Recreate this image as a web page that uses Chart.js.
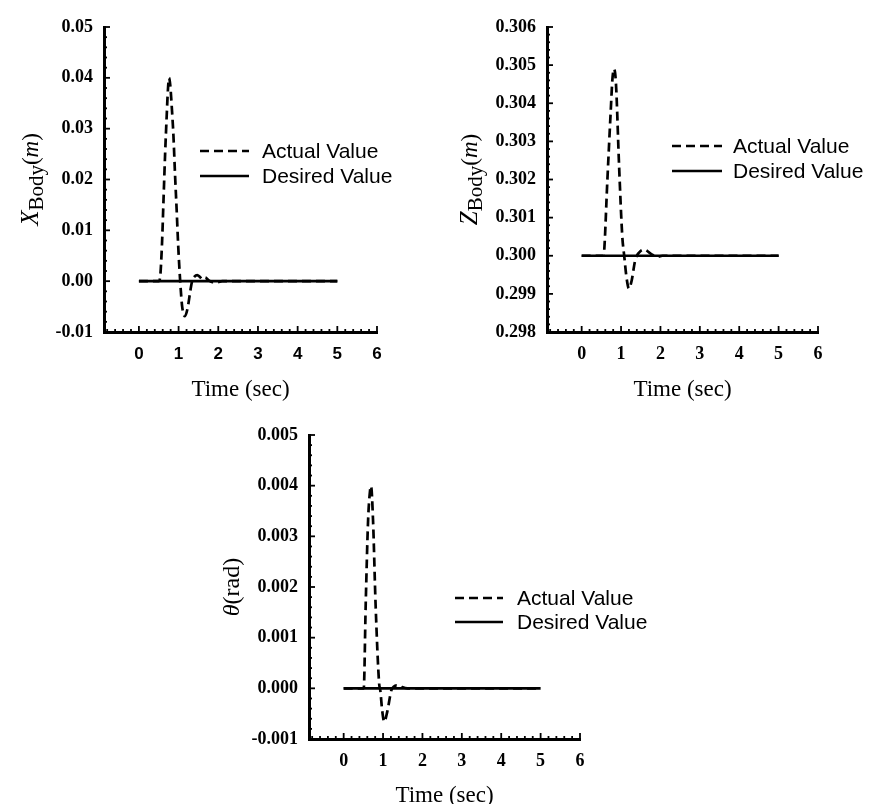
<!DOCTYPE html>
<html>
<head>
<meta charset="utf-8">
<script src="https://cdn.jsdelivr.net/npm/chart.js@4.4.1/dist/chart.umd.min.js"></script>
<style>
  html, body { margin: 0; padding: 0; background: #fff; overflow: hidden; }
  #wrap { position: relative; width: 870px; height: 804px; }
  canvas { position: absolute; left: 0; top: 0; }
</style>
</head>
<body>
<div id="wrap">
  <canvas id="chartX" width="870" height="804"></canvas>
  <canvas id="chartZ" width="870" height="804"></canvas>
  <canvas id="chartTheta" width="870" height="804"></canvas>
</div>
<script>
// -----------------------------
// DATA
// -----------------------------
const timeTicks = [0, 1, 2, 3, 4, 5, 6];
const desiredTime = [0, 5];

// X body position (m)
const xTime   = [0, 0.5, 0.53, 0.58, 0.62, 0.66, 0.70, 0.73, 0.76, 0.79, 0.83, 0.87, 0.91, 0.95, 0.99, 1.04, 1.09, 1.16, 1.23, 1.29, 1.34, 1.40, 1.47, 1.54, 1.60, 1.67, 1.75, 1.85, 1.97, 2.10, 5];
const xActual = [0, 0, 0.0005, 0.007, 0.016, 0.025, 0.0325, 0.0375, 0.040, 0.0385, 0.034, 0.0286, 0.021, 0.0142, 0.007, 0, -0.005, -0.0069, -0.0052, -0.0022, 0, 0.0009, 0.0012, 0.0008, 0.0004, 0.0007, 0.0002, -0.0002, -0.0002, 0, 0];
const xDesired = [0, 0];
const xTicks = [-0.01, 0.00, 0.01, 0.02, 0.03, 0.04, 0.05];

// Z body position (m)
const zTime   = [0, 0.55, 0.57, 0.65, 0.74, 0.78, 0.82, 0.87, 0.95, 1.03, 1.08, 1.14, 1.20, 1.27, 1.35, 1.40, 1.49, 1.59, 1.76, 1.93, 2.05, 5];
const zActual = [0.3, 0.3, 0.3001, 0.30192, 0.30384, 0.30462, 0.3049, 0.30453, 0.30236, 0.30053, 0.3, 0.29942, 0.29914, 0.29935, 0.29984, 0.3, 0.30012, 0.30016, 0.30005, 0.29997, 0.3, 0.3];
const zDesired = [0.3, 0.3];
const zTicks = [0.298, 0.299, 0.300, 0.301, 0.302, 0.303, 0.304, 0.305, 0.306];

// pitch angle theta (rad)
const thTime   = [0, 0.5, 0.51, 0.56, 0.62, 0.67, 0.695, 0.746, 0.81, 0.90, 0.93, 0.98, 1.03, 1.11, 1.21, 1.27, 1.34, 1.41, 1.50, 1.62, 5];
const thActual = [0, 0, 0, 0.00167, 0.00331, 0.0039, 0.00399, 0.00331, 0.00167, 0.0001, -0.00004, -0.00045, -0.00066, -0.00045, -0.00004, 0.00003, 0.00006, 0.00006, 0.00002, 0, 0];
const thDesired = [0, 0];
const thTicks = [-0.001, 0.000, 0.001, 0.002, 0.003, 0.004, 0.005];

const legendLabels = ["Actual Value", "Desired Value"];

// -----------------------------
// HELPERS
// -----------------------------
function toPoints(xs, ys) {
    return xs.map((x, i) => ({ x: x, y: ys[i] }));
}

// inward major/minor tick marks on both axes
const innerTicks = {
    id: "innerTicks",
    afterDraw(chart, args, opts) {
        const ctx = chart.ctx;
        const area = chart.chartArea;
        const xs = chart.scales.x;
        const ys = chart.scales.y;
        ctx.save();
        ctx.strokeStyle = "#000";
        ctx.lineWidth = 1.8;

        // y axis
        const yn = Math.round((ys.max - ys.min) / opts.yMinor);
        for (let i = 0; i <= yn; i++) {
            const v = ys.min + i * opts.yMinor;
            const py = ys.getPixelForValue(v);
            const len = (i % opts.yRatio === 0) ? 6 : 3;
            ctx.beginPath();
            ctx.moveTo(area.left, py);
            ctx.lineTo(area.left + len, py);
            ctx.stroke();
        }

        // x axis
        const start = Math.ceil(xs.min / opts.xMinor - 1e-6);
        const end = Math.floor(xs.max / opts.xMinor + 1e-6);
        for (let k = start; k <= end; k++) {
            const px = xs.getPixelForValue(k * opts.xMinor);
            const len = (k % opts.xRatio === 0) ? 6 : 3;
            ctx.beginPath();
            ctx.moveTo(px, area.bottom);
            ctx.lineTo(px, area.bottom - len);
            ctx.stroke();
        }
        ctx.restore();
    }
};

// rotated y title made of mixed-style pieces
const richYTitle = {
    id: "richYTitle",
    afterDraw(chart, args, opts) {
        const ctx = chart.ctx;
        const area = chart.chartArea;
        ctx.save();
        let total = 0;
        opts.parts.forEach(p => { ctx.font = p.font; total += ctx.measureText(p.text).width; });
        ctx.translate(area.left - opts.offset, (area.top + area.bottom) / 2);
        ctx.rotate(-Math.PI / 2);
        ctx.fillStyle = "#000";
        ctx.textBaseline = "alphabetic";
        ctx.textAlign = "left";
        let x = -total / 2;
        opts.parts.forEach(p => {
            ctx.font = p.font;
            ctx.fillText(p.text, x, p.dy || 0);
            x += ctx.measureText(p.text).width;
        });
        ctx.restore();
    }
};

// legend placed inside the plot
const insideLegend = {
    id: "insideLegend",
    afterDraw(chart, args, opts) {
        const ctx = chart.ctx;
        const area = chart.chartArea;
        ctx.save();
        chart.data.datasets.forEach((ds, i) => {
            const y = area.top + opts.y + i * opts.rowGap;
            const x0 = area.left + opts.x;
            ctx.strokeStyle = "#000";
            ctx.lineWidth = ds.borderWidth;
            ctx.setLineDash(ds.borderDash || []);
            ctx.beginPath();
            ctx.moveTo(x0, y);
            ctx.lineTo(x0 + opts.lineLen, y);
            ctx.stroke();
            ctx.setLineDash([]);
            ctx.fillStyle = "#000";
            ctx.font = '21px "Liberation Sans", Arial, sans-serif';
            ctx.textBaseline = "middle";
            ctx.fillText(ds.label, x0 + opts.lineLen + opts.textGap, y + 1);
        });
        ctx.restore();
    }
};

// -----------------------------
// CHART BUILDER
// -----------------------------
function makeChart(id, cfg) {

    const ctx = document.getElementById(id).getContext("2d");

    return new Chart(ctx, {
        type: "line",
        data: {
            datasets: [{
                label: legendLabels[0],
                data: toPoints(cfg.time, cfg.actual),
                borderColor: "#000",
                borderWidth: 2.7,
                borderDash: [9, 5],
                pointRadius: 0,
                fill: false,
                cubicInterpolationMode: "monotone"
            }, {
                label: legendLabels[1],
                data: toPoints(desiredTime, cfg.desired),
                borderColor: "#000",
                borderWidth: 2.7,
                pointRadius: 0,
                fill: false
            }]
        },
        options: {
            responsive: false,
            animation: false,
            events: [],
            layout: { padding: cfg.padding },
            scales: {
                x: {
                    type: "linear",
                    min: -0.88,
                    max: 6,
                    afterBuildTicks: s => { s.ticks = timeTicks.map(v => ({ value: v })); },
                    afterFit: s => { s.height = cfg.xHeight; },
                    grid: { display: false, drawTicks: false },
                    border: { display: true, color: "#000", width: 3 },
                    ticks: {
                        color: "#000",
                        padding: 12,
                        maxRotation: 0,
                        autoSkip: false,
                        font: cfg.xTickFont,
                        callback: v => String(v)
                    },
                    title: {
                        display: true,
                        text: "Time (sec)",
                        color: "#000",
                        padding: { top: 0, bottom: cfg.xTitlePad },
                        font: { family: '"Liberation Serif", "Times New Roman", serif', size: 23, lineHeight: 1 }
                    }
                },
                y: {
                    type: "linear",
                    min: cfg.yTicks[0],
                    max: cfg.yTicks[cfg.yTicks.length - 1],
                    afterBuildTicks: s => { s.ticks = cfg.yTicks.map(v => ({ value: v })); },
                    afterFit: s => { s.width = 90; },
                    grid: { display: false, drawTicks: false },
                    border: { display: true, color: "#000", width: 3 },
                    ticks: {
                        color: "#000",
                        padding: 11,
                        autoSkip: false,
                        font: { family: '"Liberation Serif", "Times New Roman", serif', size: 18, weight: "bold" },
                        callback: v => Number(v).toFixed(cfg.decimals)
                    }
                }
            },
            plugins: {
                legend: { display: false },
                tooltip: { enabled: false },
                innerTicks: { yMinor: cfg.yMinor, yRatio: 5, xMinor: 0.2, xRatio: 5 },
                richYTitle: { parts: cfg.titleParts, offset: cfg.titleOffset },
                insideLegend: cfg.legend
            }
        },
        plugins: [innerTicks, richYTitle, insideLegend]
    });
}

// -----------------------------
// BUILD THE THREE PANELS
// -----------------------------
const serif = '"Liberation Serif", "Times New Roman", serif';

makeChart("chartX", {
    time: xTime, actual: xActual, desired: xDesired,
    yTicks: xTicks, yMinor: 0.002, decimals: 2,
    padding: { left: 14, top: 27, right: 493, bottom: 403 },
    xHeight: 69, xTitlePad: 0,
    xTickFont: { family: '"Liberation Sans", Arial, sans-serif', size: 17, weight: "bold" },
    titleOffset: 66,
    titleParts: [
        { text: "X", font: "italic 25px " + serif },
        { text: "Body", font: "21px " + serif, dy: 5 },
        { text: "(", font: "23px " + serif },
        { text: "m", font: "italic 23px " + serif },
        { text: ")", font: "23px " + serif }
    ],
    legend: { x: 96, y: 124, rowGap: 25, lineLen: 49, textGap: 13 }
});

makeChart("chartZ", {
    time: zTime, actual: zActual, desired: zDesired,
    yTicks: zTicks, yMinor: 0.0002, decimals: 3,
    padding: { left: 457, top: 27, right: 52, bottom: 403 },
    xHeight: 69, xTitlePad: 0,
    xTickFont: { family: serif, size: 18, weight: "bold" },
    titleOffset: 70,
    titleParts: [
        { text: "Z", font: "italic 25px " + serif },
        { text: "Body", font: "21px " + serif, dy: 5 },
        { text: "(", font: "23px " + serif },
        { text: "m", font: "italic 23px " + serif },
        { text: ")", font: "23px " + serif }
    ],
    legend: { x: 125, y: 119, rowGap: 25, lineLen: 50, textGap: 11 }
});

makeChart("chartTheta", {
    time: thTime, actual: thActual, desired: thDesired,
    yTicks: thTicks, yMinor: 0.0002, decimals: 3,
    padding: { left: 219, top: 435, right: 290, bottom: 0 },
    xHeight: 65, xTitlePad: -3,
    xTickFont: { family: serif, size: 18, weight: "bold" },
    titleOffset: 70,
    titleParts: [
        { text: "\u03B8", font: "italic 24px " + serif },
        { text: "(rad)", font: "24px " + serif }
    ],
    legend: { x: 146, y: 163, rowGap: 24, lineLen: 48, textGap: 14 }
});
</script>
</body>
</html>
